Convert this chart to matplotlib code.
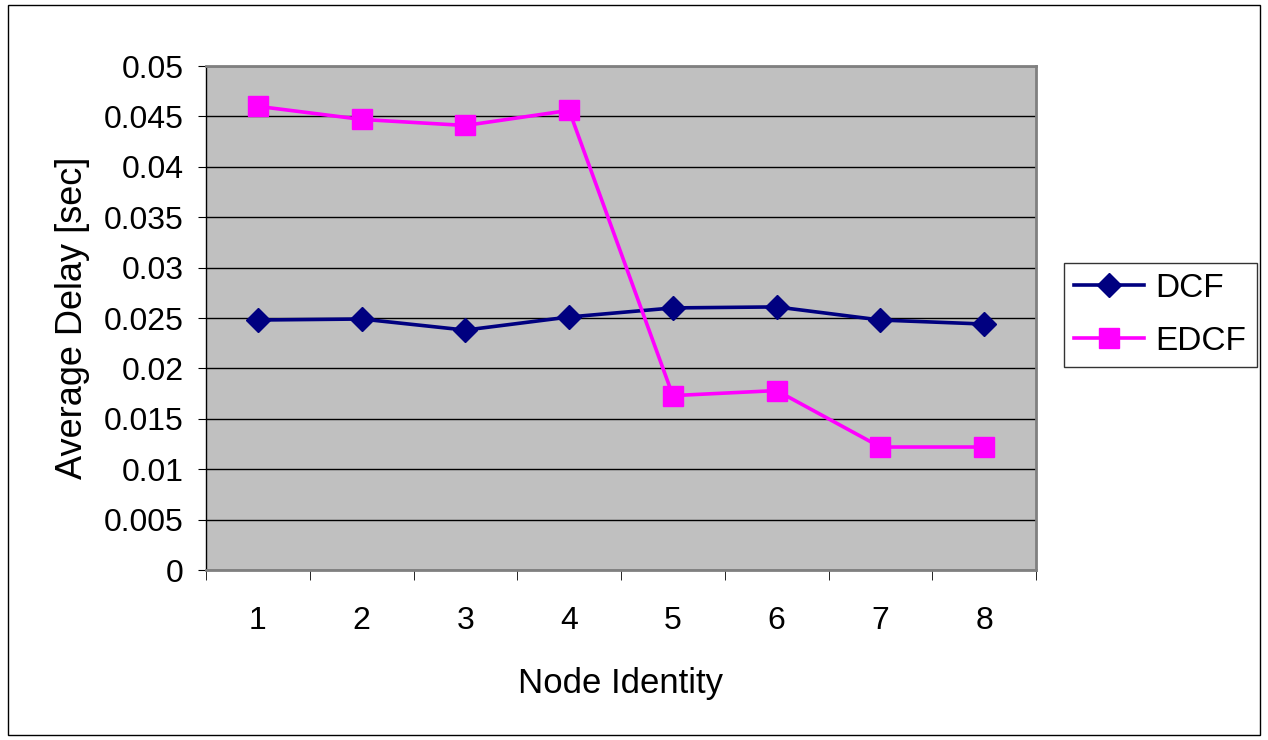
import matplotlib.pyplot as plt
import matplotlib.patches as mpatches
import numpy as np

plt.rcParams['font.family'] = ['Liberation Sans', 'DejaVu Sans']

nodes = [1, 2, 3, 4, 5, 6, 7, 8]
dcf = [0.0248, 0.0249, 0.0238, 0.0251, 0.0260, 0.0261, 0.0248, 0.0244]
edcf = [0.0460, 0.0447, 0.0441, 0.0456, 0.0173, 0.0178, 0.0122, 0.0122]
y_ticks = [0, 0.005, 0.01, 0.015, 0.02, 0.025, 0.03, 0.035, 0.04, 0.045, 0.05]
y_labels = ['0', '0.005', '0.01', '0.015', '0.02', '0.025', '0.03', '0.035', '0.04', '0.045', '0.05']

fig = plt.figure(figsize=(12.68, 7.4), dpi=100)
ax = fig.add_axes([206 / 1268, 1 - 570 / 740, (1036 - 206) / 1268, (570 - 66) / 740])

# outer border like the Excel chart area
fig.patches.append(mpatches.Rectangle((8 / 1268, 5 / 740), 1252 / 1268, 730 / 740,
                                      transform=fig.transFigure, fill=False,
                                      edgecolor='black', linewidth=1))

ax.set_facecolor('#C0C0C0')
for s in ax.spines.values():
    s.set_color('#808080')
    s.set_linewidth(2)
ax.spines['left'].set_color('black')
ax.spines['left'].set_linewidth(1)

ax.plot(nodes, dcf, '-D', color='#000080', linewidth=2.6, markersize=12, label='DCF', zorder=3)
ax.plot(nodes, edcf, '-s', color='#FF00FF', linewidth=2.6, markersize=15, label='EDCF', zorder=3)

ax.set_xlim(0.5, 8.5)
ax.set_ylim(0, 0.05)
ax.set_yticks(y_ticks)
ax.set_yticklabels(y_labels, fontsize=23)
ax.set_xticks(nodes)
ax.set_xticklabels([str(n) for n in nodes], fontsize=23)
ax.set_xticks(np.arange(0.5, 9, 1), minor=True)
ax.tick_params(axis='x', which='major', length=0, pad=26)
ax.tick_params(axis='x', which='minor', length=7, direction='out', color='black')
ax.tick_params(axis='y', length=6, direction='out', pad=10)
ax.grid(axis='y', color='black', linewidth=1)
ax.set_axisbelow(True)

ax.set_xlabel('Node Identity', fontsize=25, labelpad=22)
ax.set_ylabel('Average Delay [sec]', fontsize=26, labelpad=10)

leg = fig.legend(loc='upper left', bbox_to_anchor=(1064 / 1268, 1 - 263 / 740), fontsize=24,
                 frameon=True, fancybox=False, edgecolor='black', handlelength=2.1,
                 handletextpad=0.35, borderpad=0.3, labelspacing=0.65, borderaxespad=0)
leg.get_frame().set_linewidth(1)

plt.savefig('out.png', dpi=100)
